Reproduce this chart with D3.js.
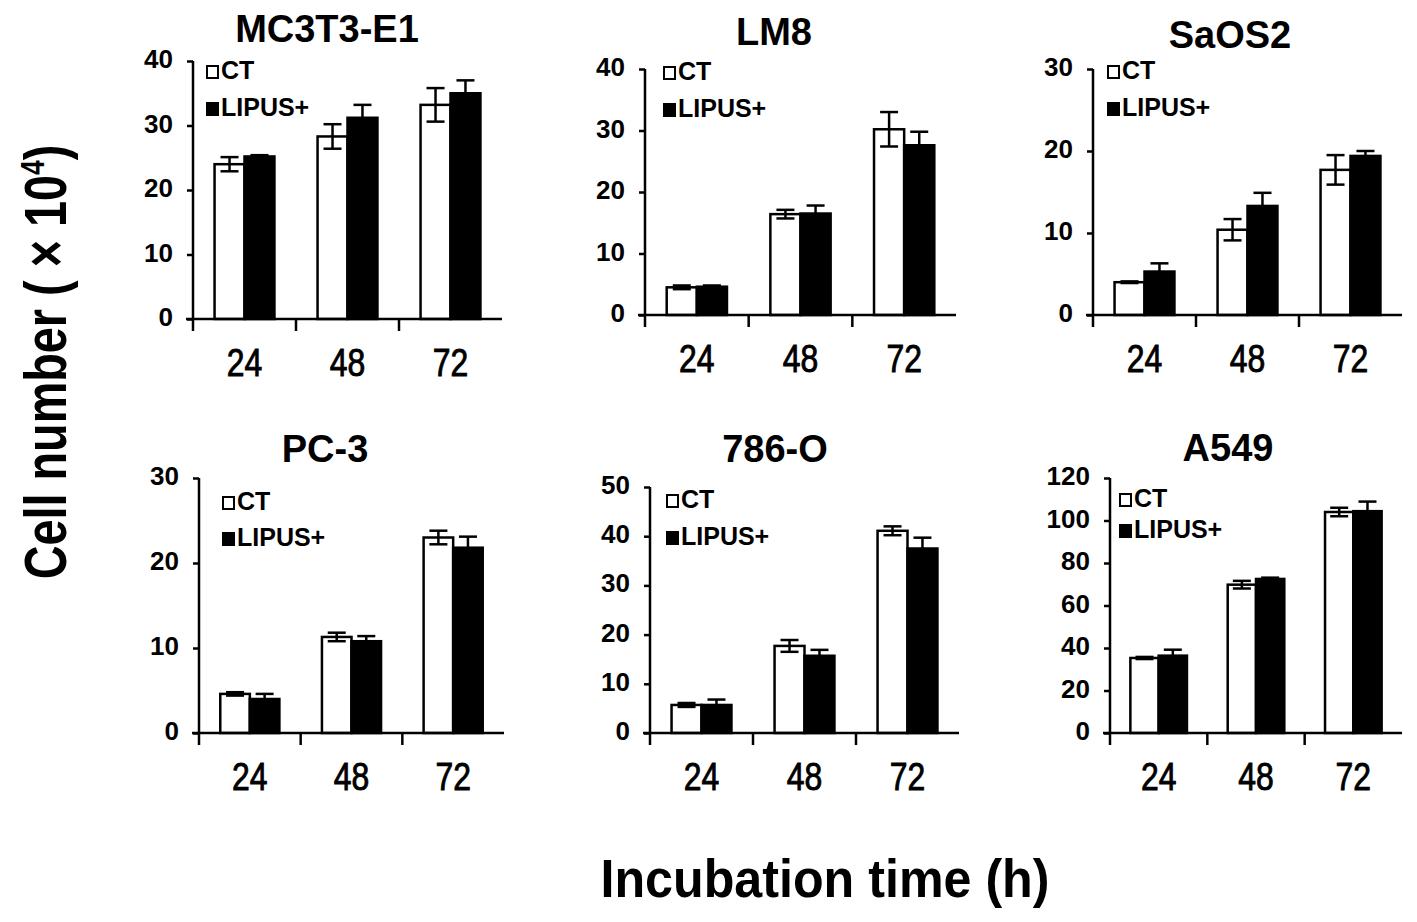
<!DOCTYPE html>
<html><head><meta charset="utf-8">
<script src="https://cdn.jsdelivr.net/npm/d3@7"></script>
<style>body{margin:0;background:#fff}</style>
</head><body><svg id="chart" width="1417" height="922"></svg>
<script>
// ---------- data ----------
const panelNames = ["MC3T3-E1", "LM8", "SaOS2", "PC-3", "786-O", "A549"];
const categories = ["24", "48", "72"];
const seriesNames = ["CT", "LIPUS+"];
const ctMeans = [[24.0, 28.3, 33.2], [4.5, 16.4, 30.2], [4.0, 10.4, 17.7], [4.6, 11.3, 23.0], [5.7, 17.7, 41.1], [35.3, 69.8, 104.0]];
const ctErrors = [[1.1, 1.9, 2.6], [0.3, 0.7, 2.8], [0.1, 1.3, 1.8], [0.2, 0.5, 0.8], [0.4, 1.2, 0.9], [0.5, 1.8, 2.0]];
const lipusMeans = [[25.2, 31.2, 35.0], [4.6, 16.5, 27.6], [5.3, 13.3, 19.4], [4.0, 10.8, 21.8], [5.7, 15.7, 37.5], [36.4, 72.5, 104.4]];
const lipusErrors = [[0.2, 2.0, 2.0], [0.2, 1.3, 2.2], [1.0, 1.6, 0.6], [0.6, 0.6, 1.3], [1.1, 1.2, 2.2], [2.8, 0.6, 4.5]];
const yMaxes = [40, 40, 30, 30, 50, 120];
const yTickSteps = [10, 10, 10, 10, 10, 20];
const yTitleMain = "Cell number ( \u00d7 10";
const yTitleSup = "4";
const yTitleEnd = ")";
const xTitle = "Incubation time (h)";

// ---------- layout (positions only) ----------
const layout = [
  {x: 193, top: 61, bottom: 319, w: 309, tx: 327, ty: 42, lx: 14, l1: 72, l2: 109},
  {x: 645, top: 69, bottom: 315, w: 311, tx: 774, ty: 45, lx: 19, l1: 73, l2: 110},
  {x: 1093, top: 69, bottom: 315, w: 309, tx: 1230, ty: 48, lx: 15, l1: 72, l2: 109},
  {x: 199, top: 478, bottom: 733, w: 305, tx: 325, ty: 462, lx: 24, l1: 503, l2: 539},
  {x: 650, top: 487, bottom: 733, w: 309, tx: 775, ty: 462, lx: 17, l1: 501, l2: 538},
  {x: 1110, top: 478, bottom: 733, w: 292, tx: 1228, ty: 461, lx: 10, l1: 500, l2: 531}
];
const font = "'Liberation Sans', Arial, Helvetica, sans-serif";
const svg = d3.select("#chart");

panelNames.forEach((name, i) => {
  const L = layout[i];
  const g = svg.append("g");
  const x = d3.scaleBand().domain(categories).range([L.x, L.x + L.w]).padding(0);
  const xs = d3.scaleBand().domain(seriesNames).range([0, x.bandwidth()]).paddingInner(0).paddingOuter(0.72);
  const y = d3.scaleLinear().domain([0, yMaxes[i]]).range([L.bottom, L.top]);

  const rows = categories.map((c, k) => [
    {s: "CT", c, m: ctMeans[i][k], e: ctErrors[i][k]},
    {s: "LIPUS+", c, m: lipusMeans[i][k], e: lipusErrors[i][k]}
  ]).flat();

  // bars
  g.selectAll("rect.bar").data(rows).join("rect").attr("class", "bar")
    .attr("x", d => x(d.c) + xs(d.s))
    .attr("y", d => y(d.m))
    .attr("width", xs.bandwidth())
    .attr("height", d => y(0) - y(d.m))
    .attr("fill", d => d.s === "CT" ? "#fff" : "#000")
    .attr("stroke", "#000").attr("stroke-width", 2.5);

  // error bars
  const cap = 9;
  const cx = d => x(d.c) + xs(d.s) + xs.bandwidth() / 2;
  const eg = g.selectAll("g.err").data(rows).join("g").attr("class", "err")
    .attr("stroke", "#000").attr("stroke-width", 2.5);
  eg.append("line").attr("x1", cx).attr("x2", cx)
    .attr("y1", d => y(d.m - d.e)).attr("y2", d => y(d.m + d.e));
  eg.append("line").attr("x1", d => cx(d) - cap).attr("x2", d => cx(d) + cap)
    .attr("y1", d => y(d.m + d.e)).attr("y2", d => y(d.m + d.e));
  eg.append("line").attr("x1", d => cx(d) - cap).attr("x2", d => cx(d) + cap)
    .attr("y1", d => y(d.m - d.e)).attr("y2", d => y(d.m - d.e));

  // y axis
  const yAxis = d3.axisLeft(y)
    .tickValues(d3.range(0, yMaxes[i] + 1e-9, yTickSteps[i]))
    .tickSize(6).tickPadding(14).tickSizeOuter(0);
  const ya = g.append("g").attr("transform", `translate(${L.x},0)`).call(yAxis);
  ya.select(".domain").remove();
  ya.selectAll(".tick line").attr("stroke", "#000").attr("stroke-width", 2.5);
  ya.selectAll(".tick text").attr("font-family", font).attr("font-size", 26)
    .attr("font-weight", "bold").attr("fill", "#000").attr("dy", "0.25em");

  g.append("line").attr("stroke", "#000").attr("stroke-width", 2.5)
    .attr("x1", L.x).attr("x2", L.x).attr("y1", y.range()[1]).attr("y2", y(0) + 12);
  g.append("line").attr("stroke", "#000").attr("stroke-width", 2.5)
    .attr("x1", L.x - 7).attr("x2", x.range()[1]).attr("y1", y(0)).attr("y2", y(0));
  g.selectAll("line.ctick").data(categories.slice(1)).join("line").attr("class", "ctick")
    .attr("stroke", "#000").attr("stroke-width", 2.5)
    .attr("x1", d => x(d)).attr("x2", d => x(d)).attr("y1", y(0)).attr("y2", y(0) + 12);

  // x tick labels
  g.selectAll("text.xl").data(categories).join("text").attr("class", "xl")
    .attr("transform", d => `translate(${x(d) + x.bandwidth() / 2},${y(0) + 57}) scale(0.84,1)`)
    .attr("text-anchor", "middle").attr("font-family", font).attr("font-size", 38)
    .attr("fill", "#000").attr("stroke", "#000").attr("stroke-width", 0.9).text(d => d);

  // panel title
  g.append("text").attr("x", L.tx).attr("y", L.ty).attr("text-anchor", "middle")
    .attr("font-family", font).attr("font-size", 38).attr("font-weight", "bold")
    .text(name);

  // legend
  const legY = [L.l1, L.l2];
  seriesNames.forEach((s, k) => {
    g.append("rect").attr("x", L.x + L.lx).attr("y", legY[k] - 6).attr("width", 11).attr("height", 12)
      .attr("fill", k === 0 ? "#fff" : "#000").attr("stroke", "#000").attr("stroke-width", 2);
    g.append("text").attr("x", L.x + L.lx + 14).attr("y", legY[k] + 7)
      .attr("font-family", font).attr("font-size", 25).attr("font-weight", "bold").text(s);
  });
});

// global axis titles
const yt = svg.append("text")
  .attr("transform", "translate(66,362) rotate(-90) scale(0.78,1)")
  .attr("text-anchor", "middle").attr("font-family", font).attr("font-size", 60).attr("font-weight", "bold");
yt.append("tspan").text(yTitleMain);
yt.append("tspan").attr("font-size", 34).attr("dy", -22).text(yTitleSup);
yt.append("tspan").attr("dy", 22).text(yTitleEnd);

svg.append("text")
  .attr("transform", "translate(825,897) scale(0.93,1)")
  .attr("text-anchor", "middle").attr("font-family", font).attr("font-size", 54).attr("font-weight", "bold")
  .text(xTitle);
</script>
</body></html>
